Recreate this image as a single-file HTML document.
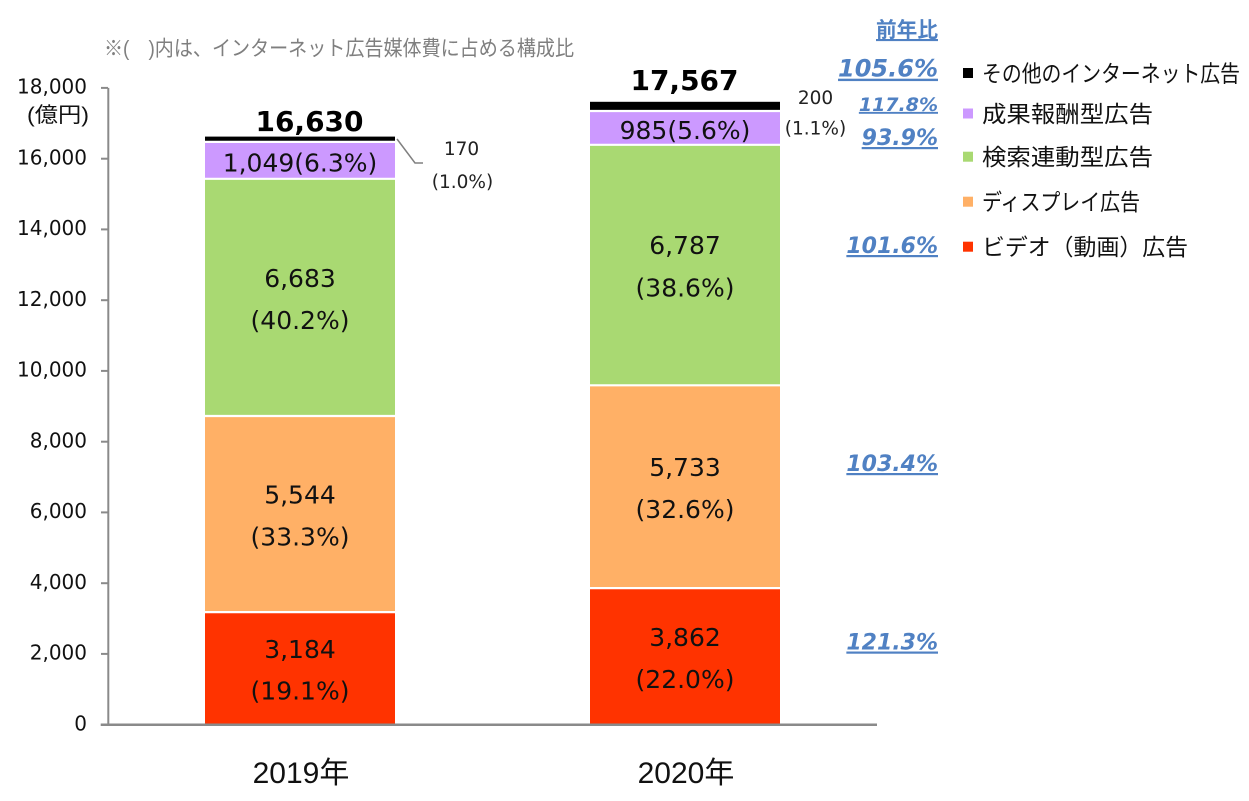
<!DOCTYPE html>
<html>
<head>
<meta charset="utf-8">
<style>
  html, body { margin: 0; padding: 0; background: #fff; }
  svg { display: block; }
  .jp { font-family: "Liberation Sans", "Noto Sans CJK JP", sans-serif; }
  .num { font-family: "DejaVu Sans", "Liberation Sans", sans-serif; }
  .blue { font-family: "DejaVu Sans", "Liberation Sans", sans-serif; font-weight: bold; font-style: italic; fill: #5081c3; text-decoration: underline; }
</style>
</head>
<body>
<svg width="1249" height="801" viewBox="0 0 1249 801" xmlns="http://www.w3.org/2000/svg">
  <rect x="0" y="0" width="1249" height="801" fill="#fff"/>

  <!-- note -->
  <text class="jp" x="104" y="55.5" font-size="21" fill="#7f7f7f" textLength="470" lengthAdjust="spacingAndGlyphs">※(　)内は、インターネット広告媒体費に占める構成比</text>

  <!-- y axis labels -->
  <g class="num" font-size="20" fill="#111" text-anchor="end">
    <text x="87" y="730.3">0</text>
    <text x="87" y="659.5">2,000</text>
    <text x="87" y="588.8">4,000</text>
    <text x="87" y="518.0">6,000</text>
    <text x="87" y="447.3">8,000</text>
    <text x="87" y="376.5">10,000</text>
    <text x="87" y="305.8">12,000</text>
    <text x="87" y="235.0">14,000</text>
    <text x="87" y="164.3">16,000</text>
    <text x="87" y="93.5">18,000</text>
  </g>
  <text class="jp" x="89" y="122" font-size="21" fill="#111" text-anchor="end" textLength="62" lengthAdjust="spacingAndGlyphs">(億円)</text>

  <!-- bars 2019 -->
  <rect x="205" y="612.1" width="190" height="112.6" fill="#ff3300"/>
  <rect x="205" y="416.0" width="190" height="196.1" fill="#ffb066"/>
  <rect x="205" y="179.5" width="190" height="236.5" fill="#a9d972"/>
  <rect x="205" y="142.4" width="190" height="37.1" fill="#cc99ff"/>
  <rect x="205" y="136.6" width="190" height="5.8" fill="#000"/>
  <!-- bars 2020 -->
  <rect x="590" y="588.1" width="190" height="136.6" fill="#ff3300"/>
  <rect x="590" y="385.3" width="190" height="202.8" fill="#ffb066"/>
  <rect x="590" y="145.2" width="190" height="240.1" fill="#a9d972"/>
  <rect x="590" y="110.3" width="190" height="34.9" fill="#cc99ff"/>
  <rect x="590" y="101.8" width="190" height="8.5" fill="#000"/>

  <!-- white separators -->
  <g stroke="#fff" stroke-width="2.2">
    <line x1="204" x2="396" y1="612.1" y2="612.1"/>
    <line x1="204" x2="396" y1="416.0" y2="416.0"/>
    <line x1="204" x2="396" y1="178.8" y2="178.8"/>
    <line x1="204" x2="396" y1="141.9" y2="141.9"/>
    <line x1="589" x2="781" y1="588.1" y2="588.1"/>
    <line x1="589" x2="781" y1="385.3" y2="385.3"/>
    <line x1="589" x2="781" y1="144.8" y2="144.8"/>
    <line x1="589" x2="781" y1="111.0" y2="111.0"/>
  </g>

  <!-- axes -->
  <g stroke="#8a8a8a">
    <line x1="108.3" y1="87.9" x2="108.3" y2="725" stroke-width="2"/>
    <line x1="100.7" y1="724.7" x2="877" y2="724.7" stroke-width="2.5"/>
    <g stroke-width="2">
      <line x1="101" x2="108" y1="653.9" y2="653.9"/>
      <line x1="101" x2="108" y1="583.2" y2="583.2"/>
      <line x1="101" x2="108" y1="512.4" y2="512.4"/>
      <line x1="101" x2="108" y1="441.7" y2="441.7"/>
      <line x1="101" x2="108" y1="370.9" y2="370.9"/>
      <line x1="101" x2="108" y1="300.2" y2="300.2"/>
      <line x1="101" x2="108" y1="229.4" y2="229.4"/>
      <line x1="101" x2="108" y1="158.7" y2="158.7"/>
      <line x1="101" x2="108" y1="87.9" y2="87.9"/>
    </g>
  </g>

  <!-- bar labels -->
  <g class="num" font-size="25" fill="#111" text-anchor="middle">
    <text x="300" y="658.1">3,184</text>
    <text x="300" y="699.6">(19.1%)</text>
    <text x="300" y="503.4">5,544</text>
    <text x="300" y="545.4">(33.3%)</text>
    <text x="300" y="287.1">6,683</text>
    <text x="300" y="329.1">(40.2%)</text>
    <text x="300" y="171.6">1,049(6.3%)</text>

    <text x="685" y="646.1">3,862</text>
    <text x="685" y="688.1">(22.0%)</text>
    <text x="685" y="476.1">5,733</text>
    <text x="685" y="518.1">(32.6%)</text>
    <text x="685" y="254.1">6,787</text>
    <text x="685" y="296.6">(38.6%)</text>
    <text x="685" y="139.1">985(5.6%)</text>
  </g>

  <!-- totals -->
  <g class="num" font-size="28" font-weight="bold" fill="#000" text-anchor="middle">
    <text x="309.5" y="131.2">16,630</text>
    <text x="684.5" y="90.2">17,567</text>
  </g>

  <!-- other labels -->
  <polyline points="397,139 415,163 423,163" fill="none" stroke="#808080" stroke-width="1.5"/>
  <g class="num" font-size="18.5" fill="#222" text-anchor="middle">
    <text x="461.5" y="154.8">170</text>
    <text x="462.5" y="187.8">(1.0%)</text>
    <text x="815.5" y="103.8">200</text>
    <text x="815.5" y="134.3">(1.1%)</text>
  </g>

  <!-- YoY -->
  <text class="jp" x="938" y="37" font-size="21" font-weight="bold" fill="#5081c3" text-anchor="end" text-decoration="underline" textLength="62" lengthAdjust="spacingAndGlyphs">前年比</text>
  <g text-anchor="end">
    <text class="blue" x="938" y="76.7" font-size="24">105.6%</text>
    <text class="blue" x="938" y="110.9" font-size="19">117.8%</text>
    <text class="blue" x="938" y="145" font-size="22">93.9%</text>
    <text class="blue" x="938" y="253" font-size="22">101.6%</text>
    <text class="blue" x="938" y="471" font-size="22">103.4%</text>
    <text class="blue" x="938" y="649.5" font-size="22">121.3%</text>
  </g>

  <!-- legend -->
  <rect x="963" y="68" width="10" height="10" fill="#000"/>
  <rect x="963" y="108.5" width="10" height="10" fill="#cc99ff"/>
  <rect x="963" y="151.7" width="10" height="10" fill="#a9d972"/>
  <rect x="963" y="196.7" width="10" height="10" fill="#ffb066"/>
  <rect x="963" y="241.7" width="10" height="10" fill="#ff3300"/>
  <g class="jp" font-size="23" fill="#111">
    <text x="982" y="81.5" textLength="258" lengthAdjust="spacingAndGlyphs">その他のインターネット広告</text>
    <text x="982" y="122" textLength="171" lengthAdjust="spacingAndGlyphs">成果報酬型広告</text>
    <text x="982" y="165.2" textLength="171" lengthAdjust="spacingAndGlyphs">検索連動型広告</text>
    <text x="982" y="210.2" textLength="158" lengthAdjust="spacingAndGlyphs">ディスプレイ広告</text>
    <text x="982" y="255.2" textLength="206" lengthAdjust="spacingAndGlyphs">ビデオ（動画）広告</text>
  </g>

  <!-- x labels -->
  <g class="jp" font-size="30" fill="#111" text-anchor="middle">
    <text x="301" y="783">2019年</text>
    <text x="686" y="783">2020年</text>
  </g>
</svg>
</body>
</html>
